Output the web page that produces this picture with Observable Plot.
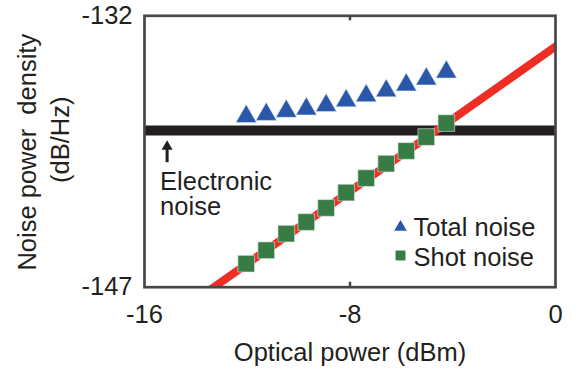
<!DOCTYPE html>
<html>
<head>
<meta charset="utf-8">
<script src="https://cdn.jsdelivr.net/npm/d3@7"></script>
<script src="https://cdn.jsdelivr.net/npm/@observablehq/plot@0.6"></script>
<style>
  html, body { margin: 0; padding: 0; background: #ffffff; }
  #chart { width: 580px; height: 372px; }
</style>
</head>
<body>
<div id="chart"></div>
<script>
// ---- data ----
const opticalPower = [-12.04, -11.26, -10.48, -9.70, -8.93, -8.15, -7.37, -6.59, -5.81, -5.03, -4.25];
const totalNoise   = [-137.57, -137.45, -137.28, -137.15, -136.96, -136.70, -136.42, -136.15, -135.82, -135.49, -135.11];
const shotNoise    = [-145.70, -144.96, -144.04, -143.40, -142.62, -141.77, -140.97, -140.17, -139.47, -138.70, -137.93];
const shotFitX     = [-16, 0];
const shotFitY     = [-149.7, -133.7];
const electronicNoise = -138.34;
const xTicks = [-16, -8, 0];
const yTicks = [-147, -132];
const innerTicks = [-8];
const xLabel = "Optical power (dBm)";
const yLabel1 = "Noise power\u00a0 density";
const yLabel2 = "(dB/Hz)";
const annotationText = "Electronic\nnoise";
const arrowX = -15.12, arrowFromY = -140.12, arrowToY = -139.3, arrowHeadY = -139.23;
const legendLabels = ["Total noise", "Shot noise"];

const totalData = opticalPower.map((x, i) => ({x, y: totalNoise[i]}));
const shotData = opticalPower.map((x, i) => ({x, y: shotNoise[i]}));
const fitData = shotFitX.map((x, i) => ({x, y: shotFitY[i]}));

const BLUE = "#2a57a7", GREEN = "#387c45", RED = "#ee2e24", BLACK = "#231f20", FRAME = "#474747";
const H = 372, MT = 15.3, MB = 85.3, FH = H - MT - MB;
const FS = 25.5;

const chart = Plot.plot({
  width: 580,
  height: H,
  marginLeft: 144,
  marginRight: 25,
  marginTop: MT,
  marginBottom: MB,
  x: {domain: [-16, 0]},
  y: {domain: [-147, -132]},
  style: {fontFamily: "'Liberation Sans', Arial, sans-serif", fontSize: FS + "px", color: BLACK, background: "#ffffff", overflow: "visible"},
  marks: [
    Plot.ruleY([electronicNoise], {stroke: BLACK, strokeWidth: 10}),
    Plot.line(fitData, {x: "x", y: "y", stroke: RED, strokeWidth: 8, clip: true}),
    Plot.dot(shotData, {x: "x", y: "y", symbol: "square", r: 9.4, fill: GREEN, stroke: "#dfeadf", strokeWidth: 0.6}),
    Plot.dot(totalData, {x: "x", y: "y", symbol: "triangle", r: 7.7, fill: BLUE, stroke: "#dbe4f3", strokeWidth: 0.6}),
    // annotation arrow
    Plot.ruleX([arrowX], {y1: arrowFromY, y2: arrowToY, stroke: BLACK, strokeWidth: 3}),
    Plot.dot([arrowX], {x: d => d, y: () => arrowHeadY, symbol: "triangle", r: 4.1, fill: BLACK}),
    Plot.text([annotationText], {x: () => arrowX, y: () => arrowFromY, text: d => d, textAnchor: "start", lineAnchor: "top", lineHeight: 0.98, dx: -7, dy: 9.6, fill: BLACK, fontSize: FS}),
    // legend
    Plot.dot([0], {frameAnchor: "bottom-right", dx: -155, dy: -60, symbol: "triangle", r: 4.7, fill: BLUE}),
    Plot.dot([0], {frameAnchor: "bottom-right", dx: -155, dy: -31.7, symbol: "square", r: 5.6, fill: GREEN}),
    Plot.text([legendLabels[0]], {frameAnchor: "bottom-right", dx: -142, dy: -51.7, text: d => d, textAnchor: "start", lineAnchor: "bottom", fill: BLACK, fontSize: FS}),
    Plot.text([legendLabels[1]], {frameAnchor: "bottom-right", dx: -142, dy: -21.7, text: d => d, textAnchor: "start", lineAnchor: "bottom", fill: BLACK, fontSize: FS}),
    // axes
    Plot.axisX({ticks: xTicks, tickFormat: d => String(d), tickSize: 0, tickPadding: 18, label: null, fontSize: FS}),
    Plot.axisY({ticks: yTicks, tickFormat: d => String(d), tickSize: 0, tickPadding: 12, label: null, fontSize: FS}),
    Plot.ruleX(innerTicks, {insetTop: FH - 5, stroke: FRAME, strokeWidth: 2.5}),
    Plot.ruleX(innerTicks, {insetBottom: FH - 5, stroke: FRAME, strokeWidth: 2.5}),
    Plot.frame({stroke: FRAME, strokeWidth: 2.7}),
    // axis titles
    Plot.text([xLabel], {frameAnchor: "bottom", dy: 73.3, text: d => d, lineAnchor: "bottom", fill: BLACK, fontSize: FS}),
    Plot.text([yLabel1], {frameAnchor: "left", textAnchor: "middle", dx: -117, dy: 0.7, rotate: -90, text: d => d, lineAnchor: "middle", fill: BLACK, fontSize: FS}),
    Plot.text([yLabel2], {frameAnchor: "left", textAnchor: "middle", dx: -84, dy: -11.8, rotate: -90, text: d => d, lineAnchor: "middle", fill: BLACK, fontSize: FS})
  ]
});
document.getElementById("chart").appendChild(chart);
</script>
</body>
</html>
